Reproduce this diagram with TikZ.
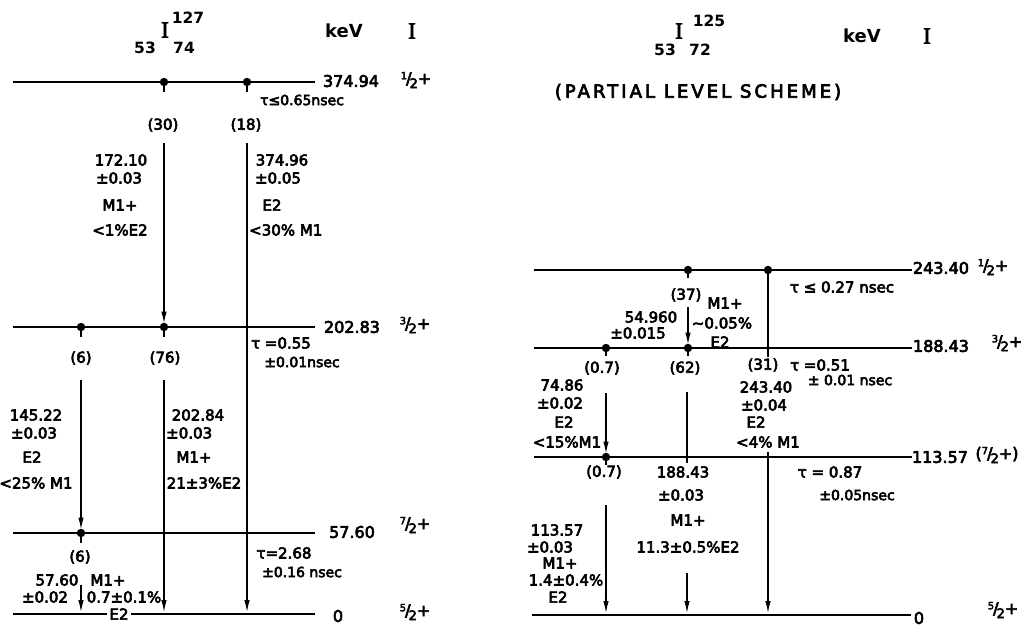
\documentclass[tikz,border=0pt]{standalone}
\usepackage{fontspec}
\setmainfont{DejaVu Sans}
\newfontfamily\lbf{DejaVu Sans}[FakeBold=4]
\newfontfamily\hbf{DejaVu Sans Bold}
\newfontfamily\serifI{Liberation Serif}[FakeBold=3]
\usetikzlibrary{arrows.meta}
\newcommand\fr[2]{\raisebox{0.55ex}{\fontsize{10}{11}\selectfont #1}\kern-0.06em/\kern-0.12em\raisebox{-0.45ex}{\fontsize{13}{13}\selectfont #2}}
\begin{document}
\begin{tikzpicture}[x=1pt,y=-1pt,
  lvl/.style={line width=1.3pt},
  tr/.style={line width=1.2pt},
  arr/.style={-{Latex[length=12pt,width=5.5pt]},shorten >=2pt},
  arrd/.style={-{Latex[length=12pt,width=5.5pt]},shorten >=3.5pt},
  lab/.style={font=\lbf\fontsize{15}{17}\selectfont,inner sep=0pt},
  elab/.style={font=\lbf\fontsize{16}{18}\selectfont,inner sep=0pt},
  sml/.style={font=\lbf\fontsize{14}{16}\selectfont,inner sep=0pt},
  iso/.style={font=\hbf\fontsize{15.5}{17}\selectfont,inner sep=0pt},
  ttl/.style={font=\serifI\fontsize{23}{25}\selectfont,inner sep=0pt},
  kev/.style={font=\hbf\fontsize{18}{20}\selectfont,inner sep=0pt},
  dotc/.style={fill=black}]
\useasboundingbox[fill=white] (0,0) rectangle (1026,629);

% ================= LEFT: I-127 =================
\node[ttl] (lI) at (165,30) {I};
\node[iso] (lA) at (188,18) {127};
\node[iso] (lZ) at (145,48) {53};
\node[iso] (lN) at (184,48) {74};
\node[kev] (lkev) at (344,31) {keV};
\node[ttl] (lIc) at (412,31) {I};

% levels
\coordinate (a1l) at (13,82);  \coordinate (a1r) at (315,82);
\coordinate (a2l) at (13,327); \coordinate (a2r) at (315,327);
\coordinate (a3l) at (13,533); \coordinate (a3r) at (315,533);
\coordinate (a4l) at (13,614); \coordinate (a4r) at (315,614);
\draw[lvl] (a1l) -- (a1r);
\draw[lvl] (a2l) -- (a2r);
\draw[lvl] (a3l) -- (a3r);
\draw[lvl] (a4l) -- (a4r);

% dots
\coordinate (d11) at (164,82);  \coordinate (d12) at (247,82);
\coordinate (d21) at (81,327);  \coordinate (d22) at (164,327);
\coordinate (d31) at (81,533);
\foreach \d in {d11,d12,d21,d22,d31}{\fill[dotc] (\d) circle (4.2pt); \draw[tr] (\d) -- ++(0,10);}

% transition end points
\coordinate (ta) at (164,143); \coordinate (tb) at (247,143);
\coordinate (tc) at (81,380);  \coordinate (td) at (164,380);
\coordinate (te) at (81,585);
\coordinate (b0) at (247,614); \coordinate (d0) at (164,614); \coordinate (e0) at (81,614);
\draw[tr,arrd] (ta) -- (d22);
\draw[tr,arr] (tb) -- (b0);
\draw[tr,arrd] (tc) -- (d31);
\draw[tr,arr] (td) -- (d0);
\draw[tr,arr] (te) -- (e0);

% level labels
\node[elab] (e1) at (351,81) {374.94};
\node[elab] (s1) at (416,80) {\fr12+};
\node[elab] (e2) at (352,327) {202.83};
\node[elab] (s2) at (415,325) {\fr32+};
\node[elab] (e3) at (352,532) {57.60};
\node[elab] (s3) at (415,525) {\fr72+};
\node[elab] (e4) at (338,616) {0};
\node[elab] (s4) at (415,612) {\fr52+};

% lifetimes
\node[sml] (tau1) at (302,100) {τ≤0.65nsec};
\node[lab] (tau2) at (281,343) {τ =0.55};
\node[sml] (tau2b) at (302,362) {±0.01nsec};
\node[lab] (tau3) at (284,553) {τ=2.68};
\node[sml] (tau3b) at (302,572) {±0.16 nsec};

% intensities
\node[lab] (i30) at (163,125) {(30)};
\node[lab] (i18) at (246,125) {(18)};
\node[lab] (i6) at (81,358) {(6)};
\node[lab] (i76) at (165,358) {(76)};
\node[lab] (i6b) at (80,557) {(6)};

% transition labels
\node[lab] (g1a) at (121,160) {172.10};
\node[lab] (g1b) at (119,178) {±0.03};
\node[lab] (g1c) at (120,205) {M1+};
\node[lab] (g1d) at (120,230) {<1\%E2};
\node[lab] (g2a) at (282,160) {374.96};
\node[lab] (g2b) at (278,178) {±0.05};
\node[lab] (g2c) at (272,205) {E2};
\node[lab,anchor=west] (g2d) at (249,230) {<30\% M1};
\node[lab] (g3a) at (36,415) {145.22};
\node[lab] (g3b) at (34,433) {±0.03};
\node[lab] (g3c) at (32,457) {E2};
\node[lab] (g3d) at (36,483) {<25\% M1};
\node[lab] (g4a) at (198,415) {202.84};
\node[lab,anchor=west] (g4b) at (166,433) {±0.03};
\node[lab] (g4c) at (194,457) {M1+};
\node[lab] (g4d) at (204,483) {21±3\%E2};
\node[lab] (g5a) at (57,580) {57.60};
\node[lab] (g5b) at (45,597) {±0.02};
\node[lab] (g5c) at (108,580) {M1+};
\node[lab] (g5d) at (124,597) {0.7±0.1\%};
\node[lab,fill=white,inner xsep=2pt] (g5e) at (119,614) {E2};

% ================= RIGHT: I-125 =================
\node[ttl] (rI) at (679,31) {I};
\node[iso] (rA) at (709,21) {125};
\node[iso] (rZ) at (665,50) {53};
\node[iso] (rN) at (700,50) {72};
\node[kev] (rkev) at (862,36) {keV};
\node[ttl] (rIc) at (927,36) {I};
\node[font=\lbf\fontsize{18}{20}\selectfont\addfontfeature{LetterSpace=17},inner sep=0pt] (part) at (698,92) {(PARTIAL LEVEL SCHEME)};

% levels
\coordinate (b1l) at (534,270); \coordinate (b1r) at (912,270);
\coordinate (b2l) at (534,348); \coordinate (b2r) at (912,348);
\coordinate (b3l) at (534,457); \coordinate (b3r) at (912,457);
\coordinate (b4l) at (532,615); \coordinate (b4r) at (911,615);
\draw[lvl] (b1l) -- (b1r);
\draw[lvl] (b2l) -- (b2r);
\draw[lvl] (b3l) -- (b3r);
\draw[lvl] (b4l) -- (b4r);

% dots
\coordinate (r11) at (688,270); \coordinate (r12) at (768,270);
\coordinate (r21) at (606,348); \coordinate (r22) at (688,348);
\coordinate (r31) at (606,457);
\foreach \d in {r11,r21,r22,r31}{\fill[dotc] (\d) circle (4.2pt); \draw[tr] (\d) -- ++(0,8);}
\fill[dotc] (r12) circle (4.2pt);

% transitions
\coordinate (rf) at (688,307);
\coordinate (rg1) at (768,357); \coordinate (rg2) at (768,452); \coordinate (rg0) at (768,615);
\coordinate (rh) at (606,393);
\coordinate (ri1) at (687,392); \coordinate (ri2) at (687,463); \coordinate (ri3) at (687,573); \coordinate (ri0) at (687,615);
\coordinate (rj) at (606,505); \coordinate (rj0) at (606,615);
\draw[tr,arrd] (rf) -- (r22);
\draw[tr] (r12) -- (rg1);
\draw[tr,arr] (rg2) -- (rg0);
\draw[tr,arrd] (rh) -- (r31);
\draw[tr] (ri1) -- (ri2);
\draw[tr,arr] (ri3) -- (ri0);
\draw[tr,arr] (rj) -- (rj0);

% level labels
\node[elab] (f1) at (941,268) {243.40};
\node[elab] (q1) at (993,267) {\fr12+};
\node[elab] (f2) at (941,346) {188.43};
\node[elab] (q2) at (1007,343) {\fr32+};
\node[elab] (f3) at (940,457) {113.57};
\node[elab] (q3) at (997,455) {(\fr72+)};
\node[elab] (f4) at (919,618) {0};
\node[elab] (q4) at (1003,610) {\fr52+};

% lifetimes
\node[lab] (rt1) at (842,287) {τ ≤ 0.27 nsec};
\node[lab] (rt2) at (820,365) {τ =0.51};
\node[sml] (rt2b) at (850,380) {± 0.01 nsec};
\node[lab] (rt3) at (830,472) {τ = 0.87};
\node[sml] (rt3b) at (857,495) {±0.05nsec};

% intensities
\node[lab] (ri37) at (686,295) {(37)};
\node[lab] (ri07) at (602,368) {(0.7)};
\node[lab] (ri62) at (685,368) {(62)};
\node[lab] (ri31) at (763,365) {(31)};
\node[lab] (ri07b) at (604,472) {(0.7)};

% transition labels
\node[lab] (h1a) at (651,317) {54.960};
\node[lab] (h1b) at (638,333) {±0.015};
\node[lab] (h1c) at (725,303) {M1+};
\node[lab] (h1d) at (722,323) {\textasciitilde 0.05\%};
\node[lab] (h1e) at (720,342) {E2};
\node[lab] (h2a) at (562,385) {74.86};
\node[lab] (h2b) at (560,403) {±0.02};
\node[lab] (h2c) at (564,422) {E2};
\node[lab] (h2d) at (567,442) {<15\%M1};
\node[lab] (h3a) at (766,387) {243.40};
\node[lab] (h3b) at (764,405) {±0.04};
\node[lab] (h3c) at (756,422) {E2};
\node[lab] (h3d) at (768,442) {<4\% M1};
\node[lab] (h4a) at (683,472) {188.43};
\node[lab] (h4b) at (681,495) {±0.03};
\node[lab] (h4c) at (688,520) {M1+};
\node[lab] (h4d) at (688,547) {11.3±0.5\%E2};
\node[lab] (h5a) at (557,530) {113.57};
\node[lab] (h5b) at (550,547) {±0.03};
\node[lab] (h5c) at (560,563) {M1+};
\node[lab] (h5d) at (566,580) {1.4±0.4\%};
\node[lab] (h5e) at (558,597) {E2};
\end{tikzpicture}
\end{document}
